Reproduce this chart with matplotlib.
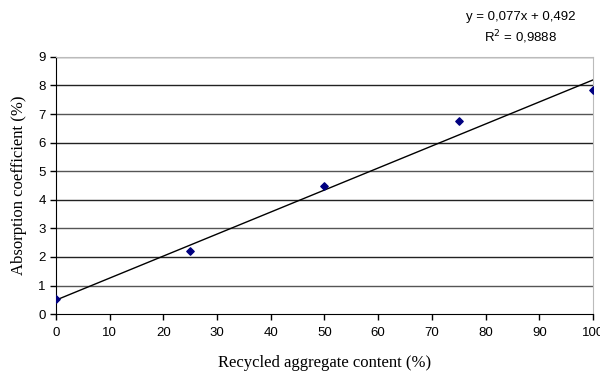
import numpy as np
import matplotlib.pyplot as plt

# data
recycled = [0, 25, 50, 75, 100]
absorption = [0.52, 2.2, 4.47, 6.76, 7.85]
slope = 0.077
intercept = 0.492
eq_text = "y = 0,077x + 0,492"
r2_text = "R$^2$ = 0,9888"

fig = plt.figure(figsize=(6, 3.74), dpi=100)
ax = fig.add_axes([0.0933, 0.160, 0.895, 0.688])

# gridlines
for yv in range(1, 10):
    ax.axhline(yv, color="#555555" if yv % 2 else "#222222", lw=1.0, zorder=1)

# trend line
xt = np.array([0, 100])
ax.plot(xt, slope * xt + intercept, color="black", lw=1.0, zorder=2)

ax.scatter(recycled, absorption, marker="D", s=14, color="#000080", zorder=3)

ax.set_xlim(0, 100)
ax.set_ylim(0, 9)
ax.set_xticks(range(0, 101, 10))
ax.set_yticks(range(0, 10))
ax.tick_params(direction="out", length=4, width=1, color="black", labelsize=9.5)
ax.tick_params(axis="x", pad=5)
for lab in ax.get_xticklabels() + ax.get_yticklabels():
    lab.set_family("Liberation Sans")
ax.spines["top"].set_color("#bbbbbb")
ax.spines["right"].set_color("#bbbbbb")
ax.spines["left"].set_color("black")
ax.spines["bottom"].set_color("black")

ax.set_xlabel("Recycled aggregate content (%)", family="Liberation Serif", fontsize=12, labelpad=12)
ax.set_ylabel("Absorption coefficient (%)", family="Liberation Serif", fontsize=12, labelpad=8)

fig.text(0.868, 0.955, eq_text, ha="center", va="center", family="Liberation Sans", fontsize=9.5)
fig.text(0.868, 0.900, r2_text, ha="center", va="center", family="Liberation Sans", fontsize=9.5)

fig.savefig("out.png", dpi=100)
